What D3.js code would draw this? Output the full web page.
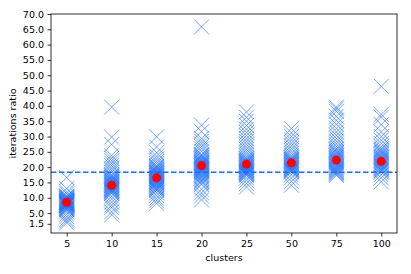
<!DOCTYPE html>
<html>
<head>
<meta charset="utf-8">
<script src="https://cdn.jsdelivr.net/npm/d3@7"></script>
<style>
  body { margin: 0; background: #fff; }
  svg text { font-family: "DejaVu Sans", sans-serif; }
</style>
</head>
<body>
<script>
var clusters = ["5", "10", "15", "20", "25", "50", "75", "100"];

// iteration ratios per cluster
var ratios5 = [16.6, 13.0, 11.9, 11.3, 10.6, 10.4, 10.2, 10.0, 9.8, 9.7, 9.5, 9.4, 9.2, 9.1, 9.0, 8.9, 8.8, 8.7, 8.6, 8.5, 8.4, 8.3, 8.2, 8.1, 8.0, 7.9, 7.8, 7.7, 7.6, 7.5, 7.4, 7.2, 7.0, 6.8, 6.6, 6.4, 6.2, 6.0, 5.4, 4.6, 3.8, 3.0, 2.4, 1.8];
var ratios10 = [39.6, 29.8, 27.4, 23.8, 22.9, 22.1, 21.3, 20.5, 19.7, 19.0, 18.3, 17.5, 17.2, 16.9, 16.6, 16.3, 16.0, 15.8, 15.6, 15.4, 15.2, 15.0, 14.8, 14.6, 14.4, 14.2, 14.0, 13.8, 13.6, 13.4, 13.2, 13.0, 12.8, 12.6, 12.4, 12.2, 12.0, 11.7, 11.4, 10.5, 9.6, 8.6, 7.6, 6.8, 5.4, 4.4];
var ratios15 = [29.9, 26.6, 24.7, 23.6, 22.7, 21.9, 21.2, 20.5, 20.2, 19.9, 19.6, 19.3, 19.0, 18.7, 18.5, 18.3, 18.1, 17.9, 17.7, 17.5, 17.3, 17.1, 16.9, 16.7, 16.5, 16.3, 16.1, 15.9, 15.7, 15.5, 15.3, 15.1, 14.9, 14.7, 14.5, 14.2, 13.9, 13.6, 13.3, 13.0, 12.7, 12.4, 11.6, 10.7, 9.8, 9.0, 8.2];
var ratios20 = [65.8, 33.7, 31.6, 29.4, 28.5, 27.6, 26.8, 26.0, 25.2, 24.2, 23.9, 23.6, 23.3, 23.0, 22.7, 22.4, 22.1, 21.8, 21.6, 21.4, 21.2, 21.0, 20.8, 20.6, 20.4, 20.2, 20.0, 19.8, 19.6, 19.4, 19.2, 19.0, 18.8, 18.6, 18.3, 18.0, 17.7, 17.4, 17.1, 16.8, 16.5, 16.1, 15.7, 15.3, 14.8, 14.3, 12.8, 11.6, 10.6, 9.3];
var ratios25 = [38.0, 36.3, 35.0, 33.6, 32.4, 31.3, 30.3, 29.3, 28.4, 27.5, 26.6, 25.8, 25.0, 24.3, 23.6, 23.0, 22.7, 22.4, 22.1, 21.9, 21.7, 21.5, 21.3, 21.1, 20.9, 20.7, 20.5, 20.3, 20.1, 19.9, 19.7, 19.5, 19.3, 19.1, 18.9, 18.7, 18.5, 18.3, 18.1, 17.9, 17.6, 17.3, 16.5, 15.6, 14.6, 13.5];
var ratios50 = [32.6, 31.2, 30.0, 28.9, 27.9, 27.0, 26.1, 25.3, 24.5, 23.8, 23.3, 23.0, 22.7, 22.5, 22.3, 22.1, 21.9, 21.7, 21.5, 21.3, 21.1, 20.9, 20.7, 20.5, 20.3, 20.1, 19.9, 19.7, 19.5, 19.3, 19.1, 18.9, 18.7, 18.4, 17.5, 16.5, 15.3, 14.1];
var ratios75 = [39.6, 39.0, 38.2, 36.6, 35.3, 34.0, 32.7, 31.5, 30.4, 29.4, 28.5, 27.6, 26.8, 26.0, 25.6, 25.2, 24.8, 24.4, 24.0, 23.7, 23.4, 23.1, 22.8, 22.5, 22.2, 21.9, 21.6, 21.3, 21.0, 20.7, 20.4, 20.1, 19.8, 19.5, 19.2, 18.9, 18.6, 18.3, 18.0, 17.7, 17.3];
var ratios100 = [46.4, 37.2, 36.3, 33.9, 31.5, 30.0, 28.8, 27.7, 26.7, 26.0, 25.6, 25.2, 24.8, 24.4, 24.0, 23.6, 23.3, 23.0, 22.7, 22.4, 22.1, 21.8, 21.5, 21.2, 20.9, 20.6, 20.3, 20.0, 19.7, 19.4, 19.1, 18.8, 18.4, 17.5, 16.5, 15.2];

var means = [8.5, 14.1, 16.5, 20.5, 21.0, 21.4, 22.3, 21.9];
var overallMean = 18.35;
var yTicks = [1.5, 5, 10, 15, 20, 25, 30, 35, 40, 45, 50, 55, 60, 65, 70];

var allRatios = [ratios5, ratios10, ratios15, ratios20, ratios25, ratios50, ratios75, ratios100];

var W = 411, H = 274;
var margin = { top: 14, right: 14, bottom: 41, left: 51 };

var svg = d3.select("body").append("svg")
    .attr("width", W)
    .attr("height", H);

var x = d3.scalePoint()
    .domain(clusters)
    .range([margin.left, W - margin.right])
    .padding(0.35);

var y = d3.scaleLinear()
    .domain([-1.5, 70])
    .range([H - margin.bottom, margin.top]);

// flatten to points
var points = [];
allRatios.forEach(function(arr, i) {
    arr.forEach(function(v) { points.push({ c: clusters[i], v: v }); });
});

var s = 7.5; // half size of the x marker
svg.append("g")
    .selectAll("path")
    .data(points)
    .enter().append("path")
    .attr("d", function(d) {
        var cx = x(d.c), cy = y(d.v);
        return "M" + (cx - s) + "," + (cy - s) + "L" + (cx + s) + "," + (cy + s) +
               "M" + (cx - s) + "," + (cy + s) + "L" + (cx + s) + "," + (cy - s);
    })
    .attr("fill", "none")
    .attr("stroke", "#1f70ff")
    .attr("stroke-opacity", 0.62)
    .attr("stroke-width", 1);

// overall mean, dashed
svg.append("line")
    .attr("x1", margin.left)
    .attr("x2", W - margin.right)
    .attr("y1", y(overallMean))
    .attr("y2", y(overallMean))
    .attr("stroke", "#1a6ff0")
    .attr("stroke-width", 1.5)
    .attr("stroke-dasharray", "5.5,2.5");

// cluster means
svg.append("g")
    .selectAll("circle")
    .data(means)
    .enter().append("circle")
    .attr("cx", function(d, i) { return x(clusters[i]); })
    .attr("cy", function(d) { return y(d); })
    .attr("r", 4.5)
    .attr("fill", "red");

// axes
var xAxis = svg.append("g")
    .attr("transform", "translate(0," + (H - margin.bottom) + ")")
    .call(d3.axisBottom(x).tickSize(3.5).tickPadding(3.5));

var yAxis = svg.append("g")
    .attr("transform", "translate(" + margin.left + ",0)")
    .call(d3.axisLeft(y).tickValues(yTicks).tickFormat(d3.format(".1f")).tickSize(3.5).tickPadding(3.5));

[xAxis, yAxis].forEach(function(g) {
    g.select(".domain").remove();
    g.selectAll("text").attr("font-size", "9.5px").attr("fill", "#000")
        .attr("font-family", "DejaVu Sans, sans-serif");
    g.selectAll("line").attr("stroke", "#000").attr("stroke-width", 0.8);
});

// frame
svg.append("rect")
    .attr("x", margin.left)
    .attr("y", margin.top)
    .attr("width", W - margin.left - margin.right)
    .attr("height", H - margin.top - margin.bottom)
    .attr("fill", "none")
    .attr("stroke", "#000")
    .attr("stroke-width", 0.8);

svg.append("text")
    .attr("x", (margin.left + W - margin.right) / 2)
    .attr("y", 261)
    .attr("text-anchor", "middle")
    .attr("font-size", "9.5px")
    .text("clusters");

svg.append("text")
    .attr("transform", "translate(16," + ((margin.top + H - margin.bottom) / 2) + ") rotate(-90)")
    .attr("text-anchor", "middle")
    .attr("font-size", "9.5px")
    .text("iterations ratio");
</script>
</body>
</html>
